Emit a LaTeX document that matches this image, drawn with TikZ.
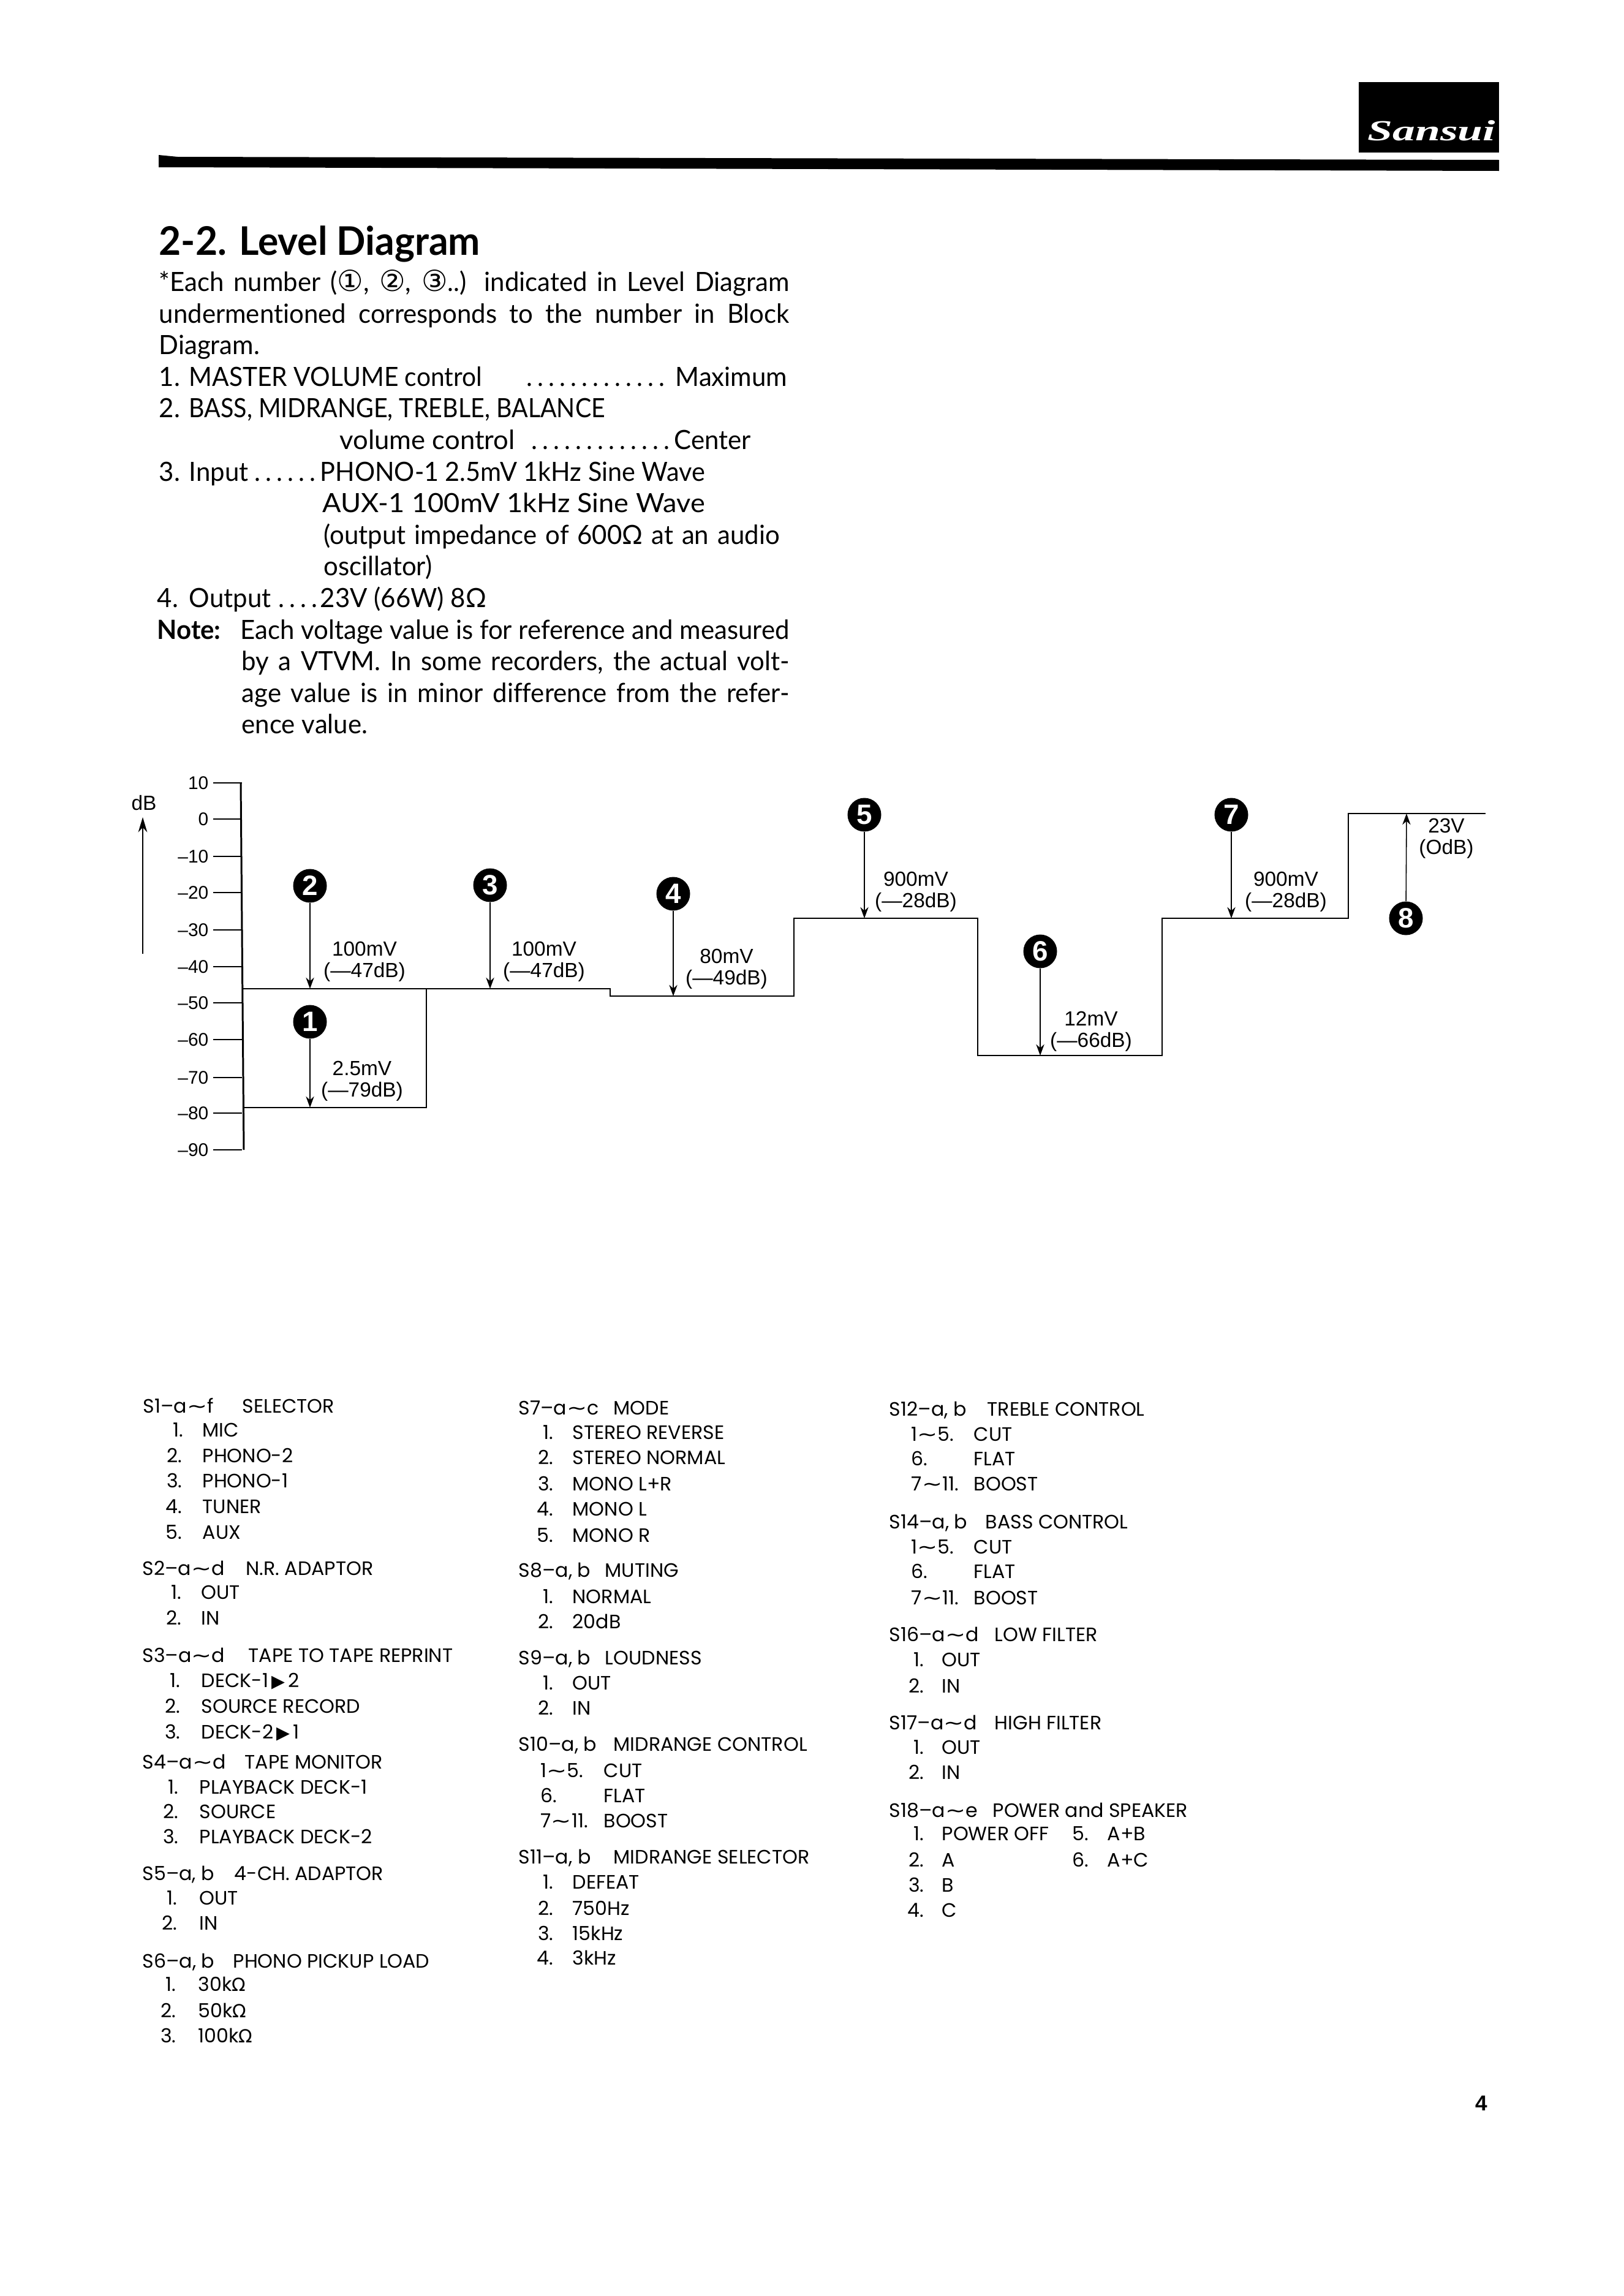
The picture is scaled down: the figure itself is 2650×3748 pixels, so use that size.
\documentclass[tikz,border=0pt]{standalone}
\usepackage{fontspec}
\setmainfont[Ligatures=NoCommon,FakeStretch=0.97]{Lato}
\newfontfamily\symfont{DejaVu Sans}
\newfontfamily\listfont{Poppins}
\newfontfamily\chartfont{Liberation Sans}
\newfontfamily\logofont[FakeStretch=1.55]{Liberation Serif}
\usetikzlibrary{arrows.meta}

\newcommand{\wv}{\scalebox{1.25}[1]{\symfont ∼}}
\newcommand{\fwd}{\,\scalebox{.9}{\symfont ▶}\,}
\newcommand{\ohm}{{\symfont\fontsize{8.4}{10}\selectfont Ω}}
\newcommand{\cnum}[1]{{\symfont\fontsize{13.5}{12}\selectfont #1}}
\newcommand{\fit}[2]{\makebox[#1\unitlength][s]{#2}}
\newcommand{\squeeze}[2]{\resizebox{#1\unitlength}{\height}{#2}}
\newcommand{\dts}[1]{\hbox to #1\unitlength{\leaders\hbox to 18\unitlength{\hfil.\hfil}\hfill}}
\setlength{\unitlength}{0.01cm}

\tikzset{
  bodytext/.style={anchor=base west,inner sep=0pt,font=\fontsize{12.3}{14}\selectfont},
  swhead/.style={anchor=base west,inner sep=0pt,font=\listfont\fontsize{9}{10}\selectfont},
  swnum/.style={swhead,anchor=base east},
  chartlabel/.style={align=center,inner sep=0pt,font=\chartfont\fontsize{9.5}{9.8}\selectfont},
  ticklabel/.style={anchor=east,inner sep=0pt,font=\chartfont\fontsize{8.5}{10}\selectfont},
  levelline/.style={line width=0.8pt,line join=miter},
  marker/.style={circle,fill=black,text=white,inner sep=0pt,minimum size=55\unitlength,
    font=\chartfont\bfseries\fontsize{13}{13}\selectfont},
  levelarrow/.style={line width=0.45pt,-{Stealth[length=5.2pt,width=3.8pt]}}
}

\begin{document}
\begin{tikzpicture}[x=0.01cm,y=-0.01cm]
\useasboundingbox (0,0) rectangle (2650,3748);

% page head
\node[fill=black,minimum width=229\unitlength,minimum height=115\unitlength,inner sep=0pt] (logobox) at (2332.5,191) {};
\node[anchor=base west,inner sep=0pt,text=white,font=\logofont\bfseries\itshape\fontsize{13.5}{15}\selectfont] (logo) at (2232,229) {Sansui};
\fill (259,253) -- (290,256) -- (2447,261) -- (2447,279) -- (259,273) -- cycle;

\node[anchor=base west,inner sep=0pt,font=\bfseries\fontsize{18.3}{20}\selectfont] (title) at (259,416) {2-2. Level Diagram};

% notes above the chart
\foreach \x/\y/\txt in {
  259/475/{\fit{1029}{*Each number (\cnum{①}, \cnum{②}, \cnum{③}..) indicated in Level Diagram}},
  259/527/{\fit{1029}{undermentioned corresponds to the number in Block}},
  259/578/{Diagram.},
  259/630/{1.},
  308/630/{\squeeze{478}{MASTER VOLUME control}},
  855/630/{\dts{245}},
  1102/630/{Maximum},
  259/681/{2.},
  308/681/{\squeeze{679}{BASS, MIDRANGE, TREBLE, BALANCE}},
  554/733/{\squeeze{286}{volume control}},
  863/733/{\dts{235}},
  1100/733/{Center},
  259/785/{3.},
  308/785/{Input},
  411/785/{\dts{111}},
  522/785/{\squeeze{628}{PHONO-1 2.5mV 1kHz Sine Wave}},
  526/836/{\squeeze{624}{AUX-1 100mV 1kHz Sine Wave}},
  528/888/{\fit{744}{(output impedance of 600Ω at an audio}},
  528/939/{oscillator)},
  256/991/{4.},
  308/991/{Output},
  450/991/{\dts{72}},
  522/991/{23V (66W) 8Ω},
  392/1043/{\fit{896}{Each voltage value is for reference and measured}},
  394/1094/{\fit{894}{by a VTVM.  In some recorders, the actual volt-}},
  394/1146/{\fit{894}{age value is in minor difference from the refer-}},
  394/1197/{ence value.}}
\node[bodytext] (note\x\y) at (\x,\y) {\txt};
\node[bodytext,font=\bfseries\fontsize{12.3}{14}\selectfont] (notehead) at (256,1043) {Note:};

% dB scale
\draw[line width=0.85pt] (393,1278) -- (398,1877);
\foreach \lab/\ty in {10/1278,0/1337,–10/1398,–20/1457,–30/1518,–40/1578,–50/1637,–60/1697,–70/1759,–80/1817,–90/1877} {
  \coordinate (tick\ty) at (348,\ty);
  \draw[line width=0.6pt] (tick\ty) -- +(47,0);
  \node[ticklabel] (scale\ty) at (341,\ty) {\lab};
}
\node[chartlabel] (dbunit) at (235,1311) {dB};
\coordinate (dbfoot) at (233,1557);
\coordinate (dbtop) at (233,1334);
\draw[line width=0.45pt,-{Stealth[length=7pt,width=4.2pt]}] (dbfoot) -- (dbtop);

% signal level
\draw[levelline] (395,1614) -- (996,1614) -- (996,1626) -- (1296,1626) -- (1296,1499)
  -- (1596,1499) -- (1596,1723) -- (1897,1723) -- (1897,1499) -- (2201,1499)
  -- (2201,1328) -- (2425,1328);
\draw[levelline] (696,1614) -- (696,1808) -- (398,1808);

\coordinate (lvl1) at (506,1808);
\coordinate (lvl2) at (506,1614);
\coordinate (lvl3) at (800,1614);
\coordinate (lvl4) at (1099,1626);
\coordinate (lvl5) at (1411,1499);
\coordinate (lvl6) at (1698,1723);
\coordinate (lvl7) at (2010,1499);
\coordinate (lvl8) at (2296,1328);

\foreach \n/\x/\y in {1/506/1668,2/506/1446,3/800/1445,4/1099/1459,5/1411/1330,6/1698/1553,7/2010/1330,8/2295/1499} {
  \node[marker] (pt\n) at (\x,\y) {\n};
  \draw[levelarrow] (pt\n) -- (lvl\n);
}

\node[chartlabel] (read1) at (591,1765) {2.5mV\\(—79dB)};
\node[chartlabel] (read2) at (595,1570) {100mV\\(—47dB)};
\node[chartlabel] (read3) at (888,1570) {100mV\\(—47dB)};
\node[chartlabel] (read4) at (1186,1582) {80mV\\(—49dB)};
\node[chartlabel] (read5) at (1495,1456) {900mV\\(—28dB)};
\node[chartlabel] (read6) at (1781,1684) {12mV\\(—66dB)};
\node[chartlabel] (read7) at (2099,1456) {900mV\\(—28dB)};
\node[chartlabel] (read8) at (2361,1369) {23V\\(OdB)};

% switch legends
\foreach \x/\y/\code/\tx/\name in {
  233/2306/{S1–a\wv f}/395/SELECTOR,
  232/2571/{S2–a\wv d}/401/N.R. ADAPTOR,
  232/2713/{S3–a\wv d}/405/TAPE TO TAPE REPRINT,
  232/2887/{S4–a\wv d}/399/TAPE MONITOR,
  232/3069/{S5–a, b}/382/4-CH. ADAPTOR,
  232/3212/{S6–a, b}/380/PHONO PICKUP LOAD,
  846/2309/{S7–a\wv c}/1001/MODE,
  846/2574/{S8–a, b}/987/MUTING,
  846/2717/{S9–a, b}/987/LOUDNESS,
  846/2858/{S10–a, b}/1001/MIDRANGE CONTROL,
  846/3042/{S11–a, b}/1001/MIDRANGE SELECTOR,
  1451/2311/{S12–a, b}/1611/TREBLE CONTROL,
  1451/2495/{S14–a, b}/1608/BASS CONTROL,
  1451/2679/{S16–a\wv d}/1623/LOW FILTER,
  1451/2823/{S17–a\wv d}/1623/HIGH FILTER,
  1451/2966/{S18–a\wv e}/1620/POWER and SPEAKER} {
  \node[swhead] (code\x\y) at (\x,\y) {\code};
  \node[swhead] (name\x\y) at (\tx,\y) {\name};
}

\foreach \nx/\lx/\y/\num/\txt in {
  300/330/2345/1./MIC,298/330/2387/2./PHONO-2,298/330/2428/3./PHONO-1,298/330/2470/4./TUNER,298/330/2512/5./AUX,
  297/328/2610/1./OUT,297/328/2652/2./IN,
  295/328/2754/1./{DECK-1\fwd 2},295/328/2796/2./SOURCE RECORD,295/328/2838/3./{DECK-2\fwd 1},
  292/325/2928/1./PLAYBACK DECK-1,292/325/2968/2./SOURCE,292/325/3009/3./PLAYBACK DECK-2,
  290/325/3109/1./OUT,290/325/3150/2./IN,
  288/323/3250/1./{30k\ohm},288/323/3293/2./{50k\ohm},288/323/3334/3./{100k\ohm},
  904/934/2349/1./STEREO REVERSE,904/934/2390/2./STEREO NORMAL,904/934/2433/3./{MONO L+R},904/934/2474/4./MONO L,904/934/2517/5./MONO R,
  904/934/2617/1./NORMAL,904/934/2658/2./20dB,
  904/934/2758/1./OUT,904/934/2799/2./IN,
  904/934/3083/1./DEFEAT,904/934/3126/2./750Hz,904/934/3167/3./15kHz,904/934/3207/4./3kHz,
  1509/1537/2720/1./OUT,1509/1537/2763/2./IN,
  1509/1537/2863/1./OUT,1509/1537/2904/2./IN,
  1509/1537/3004/1./POWER OFF,1509/1537/3047/2./A,1509/1537/3088/3./B,1509/1537/3129/4./C,
  1778/1807/3004/5./{A+B},1778/1807/3047/6./{A+C}} {
  \node[swnum] (num\nx\y) at (\nx,\y) {\num};
  \node[swhead] (item\nx\y) at (\lx,\y) {\txt};
}

% control positions, numbered in ranges
\foreach \nx/\lx/\y/\num/\txt in {
  882/985/2901/{1\wv 5.}/CUT,882/985/2942/6./FLAT,882/985/2983/{7\wv 11.}/BOOST,
  1487/1589/2352/{1\wv 5.}/CUT,1487/1589/2392/6./FLAT,1487/1589/2433/{7\wv 11.}/BOOST,
  1487/1589/2536/{1\wv 5.}/CUT,1487/1589/2576/6./FLAT,1487/1589/2619/{7\wv 11.}/BOOST} {
  \node[swhead] (num\nx\y) at (\nx,\y) {\num};
  \node[swhead] (item\nx\y) at (\lx,\y) {\txt};
}

\node[anchor=center,inner sep=0pt,font=\chartfont\bfseries\fontsize{10}{10}\selectfont] (pageno) at (2418,3433) {4};
\end{tikzpicture}
\end{document}
